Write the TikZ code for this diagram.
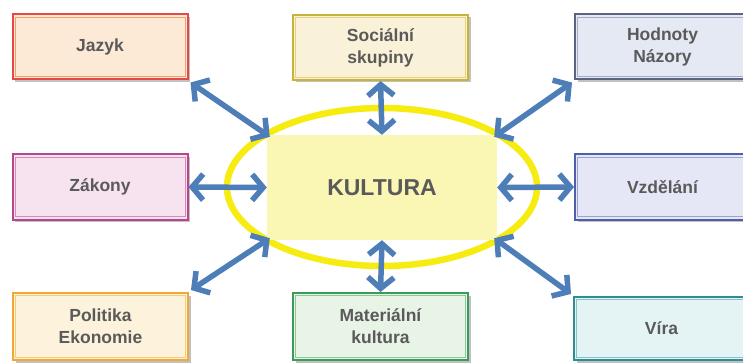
\documentclass[tikz,border=0pt]{standalone}
\usepackage{fontspec}
\setmainfont{Liberation Sans}
\usetikzlibrary{arrows.meta,shadows}
\definecolor{txt}{HTML}{5A5A5A}
\definecolor{arr}{HTML}{4D7EB8}
\definecolor{ring}{HTML}{F7EC12}
\definecolor{core}{HTML}{FAF6B4}
\definecolor{jazO}{HTML}{E54848}\definecolor{jazI}{HTML}{F4A06A}\definecolor{jazF}{HTML}{FDEAD6}
\definecolor{socO}{HTML}{C9B23A}\definecolor{socI}{HTML}{E6D27A}\definecolor{socF}{HTML}{FAF2D8}
\definecolor{hodO}{HTML}{5A6480}\definecolor{hodI}{HTML}{A5AEC8}\definecolor{hodF}{HTML}{E4E9F4}
\definecolor{zakO}{HTML}{B4488A}\definecolor{zakI}{HTML}{D88AB8}\definecolor{zakF}{HTML}{F7E3F0}
\definecolor{vzdO}{HTML}{5060A8}\definecolor{vzdI}{HTML}{9AA4D4}\definecolor{vzdF}{HTML}{E5E7F6}
\definecolor{polO}{HTML}{F0A838}\definecolor{polI}{HTML}{F6CC78}\definecolor{polF}{HTML}{FDF3DC}
\definecolor{matO}{HTML}{3E9A5A}\definecolor{matI}{HTML}{8CC79A}\definecolor{matF}{HTML}{E8F4E6}
\definecolor{virO}{HTML}{2E8C94}\definecolor{virI}{HTML}{86C4C8}\definecolor{virF}{HTML}{E4F4F5}
\tikzset{
  box/.style={draw=#1O, fill=#1F, line width=2pt,
    minimum width=175pt, minimum height=65pt, inner sep=0pt,
    align=center, text=txt, font=\fontsize{17.5}{22}\selectfont\bfseries,
    drop shadow={shadow xshift=2.5pt, shadow yshift=-2.5pt, opacity=0.4, fill=black!60},
    path picture={\draw[#1I, line width=0.8pt]
      ([shift={(2.6pt,-2.6pt)}]path picture bounding box.north west) rectangle
      ([shift={(-2.6pt,2.6pt)}]path picture bounding box.south east);}},
  link/.style={arr, line width=5.5pt,
    {Straight Barb[length=11pt,width=26pt,line width=5.5pt]}-{Straight Barb[length=11pt,width=26pt,line width=5.5pt]}}
}
\begin{document}
\begin{tikzpicture}[x=1pt,y=-1pt]
\useasboundingbox (0,0) rectangle (743,363);
\fill[white] (0,0) rectangle (743,363);

% central ellipse with the core rectangle
\draw[ring, line width=6.5pt] (382,187) ellipse [x radius=155, y radius=79];
\node[fill=core, minimum width=230pt, minimum height=105pt, inner sep=0pt,
  text=txt, font=\fontsize{23}{26}\selectfont\bfseries] (k) at (382,187.5) {KULTURA};

% surrounding boxes
\node[box=jaz] (jaz) at (100,47) {Jazyk};
\node[box=soc] (soc) at (380.5,47.5) {Sociální\\skupiny};
\node[box=hod] (hod) at (662.5,47) {Hodnoty\\Názory};
\node[box=zak] (zak) at (100,187) {Zákony};
\node[box=vzd] (vzd) at (662.5,187) {Vzdělání};
\node[box=pol, minimum height=67pt] (pol) at (100.5,326.5) {Politika\\Ekonomie};
\node[box=mat, minimum height=67pt] (mat) at (380.5,326.5) {Materiální\\kultura};
\node[box=vir, minimum height=63pt] (vir) at (661.5,328.5) {Víra};

% connectors to the core
\draw[link] ([shift={(2pt,-2pt)}]jaz.south east) -- ([shift={(3pt,-2pt)}]k.north west);
\draw[link] (soc.south) -- (k.north);
\draw[link] ([shift={(-2pt,-2pt)}]hod.south west) -- ([shift={(-3pt,-2pt)}]k.north east);
\draw[link] (zak.east) -- (k.west);
\draw[link] (vzd.west) -- (k.east);
\draw[link] ([shift={(2pt,2pt)}]pol.north east) -- ([shift={(3pt,2pt)}]k.south west);
\draw[link] (k.south) -- (mat.north);
\draw[link] ([shift={(-2pt,2pt)}]vir.north west) -- ([shift={(-3pt,2pt)}]k.south east);
\end{tikzpicture}
\end{document}
